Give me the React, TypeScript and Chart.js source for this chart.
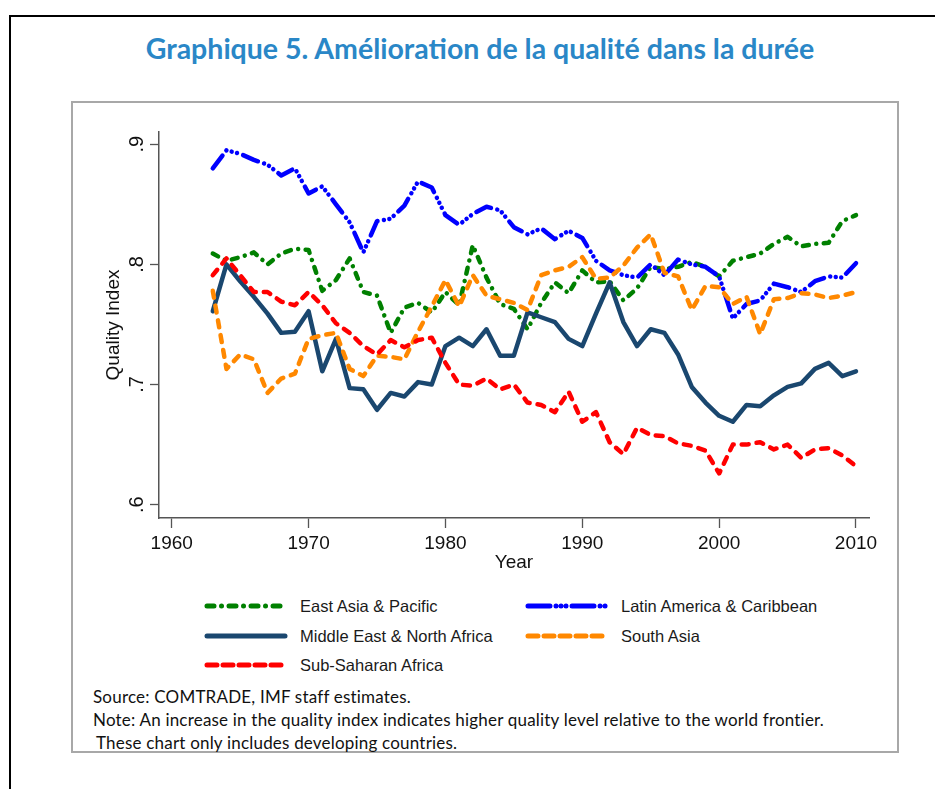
import React, { useEffect, useRef } from "react";
import { Chart, registerables } from "chart.js";

Chart.register(...registerables);

const years = [
  1963, 1964, 1965, 1966, 1967, 1968, 1969, 1970, 1971, 1972, 1973, 1974,
  1975, 1976, 1977, 1978, 1979, 1980, 1981, 1982, 1983, 1984, 1985, 1986,
  1987, 1988, 1989, 1990, 1991, 1992, 1993, 1994, 1995, 1996, 1997, 1998,
  1999, 2000, 2001, 2002, 2003, 2004, 2005, 2006, 2007, 2008, 2009, 2010,
];

const eastAsiaPacific = [
  0.809, 0.803, 0.806, 0.81, 0.8, 0.809, 0.813, 0.812, 0.778, 0.787, 0.805, 0.777,
  0.774, 0.743, 0.764, 0.768, 0.76, 0.777, 0.766, 0.816, 0.789, 0.767, 0.763, 0.746,
  0.768, 0.785, 0.776, 0.795, 0.785, 0.786, 0.77, 0.78, 0.798, 0.796, 0.798, 0.802,
  0.798, 0.79, 0.803, 0.806, 0.809, 0.817, 0.823, 0.815, 0.817, 0.818, 0.836, 0.841,
];

const latinAmericaCaribbean = [
  0.88, 0.895, 0.892, 0.887, 0.883, 0.874, 0.88, 0.859, 0.865, 0.85, 0.835, 0.81,
  0.836, 0.838, 0.849, 0.869, 0.864, 0.841, 0.833, 0.842, 0.848, 0.845, 0.831, 0.825,
  0.83, 0.821, 0.828, 0.822, 0.803, 0.795, 0.791, 0.789, 0.8, 0.791, 0.804, 0.8,
  0.798, 0.79, 0.755, 0.767, 0.77, 0.784, 0.781, 0.777, 0.786, 0.79, 0.789, 0.801,
];

const middleEastNorthAfrica = [
  0.761, 0.8, 0.786, 0.773, 0.759, 0.743, 0.744, 0.761, 0.711, 0.738, 0.697, 0.696,
  0.679, 0.693, 0.69, 0.702, 0.7, 0.732, 0.739, 0.732, 0.746, 0.724, 0.724, 0.76,
  0.756, 0.752, 0.738, 0.732, 0.759, 0.785, 0.752, 0.732, 0.746, 0.743, 0.725, 0.698,
  0.685, 0.674, 0.669, 0.683, 0.682, 0.691, 0.698, 0.701, 0.713, 0.718, 0.707, 0.711,
];

const southAsia = [
  0.778, 0.713, 0.725, 0.721, 0.693, 0.705, 0.709, 0.738, 0.741, 0.743, 0.713, 0.707,
  0.724, 0.723, 0.721, 0.744, 0.765, 0.787, 0.765, 0.791, 0.774, 0.771, 0.768, 0.762,
  0.791, 0.795, 0.798, 0.806, 0.788, 0.789, 0.799, 0.814, 0.825, 0.793, 0.79, 0.762,
  0.782, 0.781, 0.767, 0.773, 0.742, 0.771, 0.772, 0.776, 0.775, 0.772, 0.774, 0.777,
];

const subSaharanAfrica = [
  0.791, 0.805, 0.791, 0.777, 0.777, 0.769, 0.766, 0.777, 0.766, 0.751, 0.743, 0.732,
  0.725, 0.737, 0.731, 0.737, 0.739, 0.718, 0.7, 0.699, 0.705, 0.696, 0.7, 0.685,
  0.683, 0.677, 0.694, 0.669, 0.677, 0.652, 0.642, 0.664, 0.658, 0.657, 0.651, 0.649,
  0.645, 0.626, 0.65, 0.65, 0.652, 0.646, 0.65, 0.639, 0.646, 0.647, 0.641, 0.632,
];

const xTickValues = [1960, 1970, 1980, 1990, 2000, 2010];
const yTickValues = [0.6, 0.7, 0.8, 0.9];
const yTickLabels = [".6", ".7", ".8", ".9"];

const seriesNames = [
  "East Asia & Pacific",
  "Latin America & Caribbean",
  "Middle East & North Africa",
  "South Asia",
  "Sub-Saharan Africa",
];

const titleText = "Graphique 5. Amélioration de la qualité dans la durée";
const sourceText = "Source: COMTRADE, IMF staff estimates.";
const noteText =
  "Note: An increase in the quality index indicates higher quality level relative to the world frontier.";
const note2Text = "These chart only includes developing countries.";

const COLORS = ["#008000", "#0000ff", "#1a476f", "#ff8800", "#ff0000"];
const DASHES: number[][] = [
  [6, 7.5, 0.01, 7.5],
  [16, 6.5, 0.01, 5.5, 0.01, 5.5, 0.01, 6.5],
  [],
  [7, 8],
  [7, 8],
];
const SVG_DASHES = ["7 7.5 0.01 7.5", "22 6 0.01 5 0.01 5 0.01 6", "", "10 6", "10 6"];

const tickFont = { family: "'Liberation Sans', Arial, sans-serif", size: 19 };

function LegendItem({ idx, left, top }: { idx: number; left: number; top: number }) {
  return (
    <div style={{ position: "absolute", left, top: top - 12, height: 24, display: "flex", alignItems: "center" }}>
      <svg width={84} height={10} style={{ display: "block" }}>
        <line
          x1={3}
          y1={5}
          x2={81}
          y2={5}
          stroke={COLORS[idx]}
          strokeWidth={5}
          strokeLinecap="round"
          strokeDasharray={SVG_DASHES[idx] || undefined}
        />
      </svg>
      <span
        style={{
          marginLeft: 12,
          fontFamily: "'Liberation Sans', Arial, sans-serif",
          fontSize: 16.5,
          color: "#1a1a1a",
          whiteSpace: "nowrap",
        }}
      >
        {seriesNames[idx]}
      </span>
    </div>
  );
}

export default function App() {
  const canvasRef = useRef<HTMLCanvasElement | null>(null);

  useEffect(() => {
    const canvas = canvasRef.current;
    if (!canvas) return;
    const allSeries = [eastAsiaPacific, latinAmericaCaribbean, middleEastNorthAfrica, southAsia, subSaharanAfrica];
    const datasets = allSeries.map((vals, i) => ({
      label: seriesNames[i],
      data: vals.map((v, j) => ({ x: years[j], y: v })),
      borderColor: COLORS[i],
      backgroundColor: COLORS[i],
      borderWidth: 4.5,
      borderDash: DASHES[i],
      borderCapStyle: "round" as const,
      borderJoinStyle: "round" as const,
      pointRadius: 0,
      pointHoverRadius: 0,
      fill: false,
      tension: 0,
      order: allSeries.length - i,
    }));

    const chart = new Chart(canvas, {
      type: "line",
      data: { datasets },
      options: {
        responsive: false,
        maintainAspectRatio: false,
        animation: false,
        layout: { padding: { top: 29, right: 29, bottom: 0, left: 0 } },
        plugins: { legend: { display: false }, tooltip: { enabled: false } },
        scales: {
          x: {
            type: "linear",
            min: 1959.07,
            max: 2010.95,
            afterBuildTicks: (s: any) => {
              s.ticks = xTickValues.map((v) => ({ value: v }));
            },
            afterFit: (s: any) => {
              s.height = 62;
            },
            ticks: {
              autoSkip: false,
              maxRotation: 0,
              minRotation: 0,
              padding: 4,
              color: "#111",
              font: tickFont,
              callback: (v: any) => String(v),
            },
            grid: {
              drawOnChartArea: false,
              drawTicks: true,
              tickLength: 10,
              tickColor: "#555",
              tickWidth: 1.3,
            },
            border: { display: true, color: "#555", width: 1.5 },
            title: {
              display: true,
              text: "Year",
              color: "#111",
              font: tickFont,
              padding: { top: 0, bottom: 6 },
            },
          },
          y: {
            type: "linear",
            min: 0.5889,
            max: 0.9102,
            afterBuildTicks: (s: any) => {
              s.ticks = yTickValues.map((v) => ({ value: v }));
            },
            afterFit: (s: any) => {
              s.width = 87;
            },
            ticks: {
              autoSkip: false,
              minRotation: 90,
              maxRotation: 90,
              crossAlign: "center",
              padding: 4,
              color: "#111",
              font: { ...tickFont, size: 20 },
              callback: (_v: any, i: number) => yTickLabels[i],
            },
            grid: {
              drawOnChartArea: false,
              drawTicks: true,
              tickLength: 9,
              tickColor: "#555",
              tickWidth: 1.3,
            },
            border: { display: true, color: "#555", width: 1.5 },
            title: {
              display: true,
              text: "Quality Index",
              color: "#111",
              font: tickFont,
              padding: { top: 30, bottom: 0 },
            },
          },
        },
      } as any,
    });
    return () => chart.destroy();
  }, []);

  const noteStyle: React.CSSProperties = {
    position: "absolute",
    fontFamily: "Lato, 'Open Sans', sans-serif",
    fontSize: 17,
    letterSpacing: 0.2,
    color: "#111",
    whiteSpace: "nowrap",
    lineHeight: "20px",
  };

  return (
    <div
      style={{
        position: "absolute",
        left: 0,
        top: 0,
        width: 935,
        height: 789,
        overflow: "hidden",
        background: "#fff",
      }}
    >
      <div
        style={{
          position: "absolute",
          left: 9,
          top: 15,
          width: 1000,
          height: 1000,
          borderLeft: "2px solid #000",
          borderTop: "2px solid #000",
        }}
      />
      <div
        style={{
          position: "absolute",
          left: 0,
          top: 31,
          width: 960,
          textAlign: "center",
          fontFamily: "Lato, 'Open Sans', sans-serif",
          fontWeight: 700,
          fontSize: 28.5,
          lineHeight: "34px",
          color: "#2a87c7",
          whiteSpace: "nowrap",
        }}
      >
        {titleText}
      </div>
      <div
        style={{
          position: "absolute",
          left: 71,
          top: 101,
          width: 828,
          height: 652,
          boxSizing: "border-box",
          border: "2px solid #a8a8a8",
        }}
      />
      <canvas
        ref={canvasRef}
        width={826}
        height={477}
        style={{ position: "absolute", left: 72, top: 103, width: 826, height: 477 }}
      />
      <LegendItem idx={0} left={204} top={606} />
      <LegendItem idx={1} left={525} top={606} />
      <LegendItem idx={2} left={204} top={636} />
      <LegendItem idx={3} left={525} top={636} />
      <LegendItem idx={4} left={204} top={665} />
      <div style={{ ...noteStyle, left: 93, top: 687 }}>{sourceText}</div>
      <div style={{ ...noteStyle, left: 93, top: 710 }}>{noteText}</div>
      <div style={{ ...noteStyle, left: 96, top: 733 }}>{note2Text}</div>
    </div>
  );
}
